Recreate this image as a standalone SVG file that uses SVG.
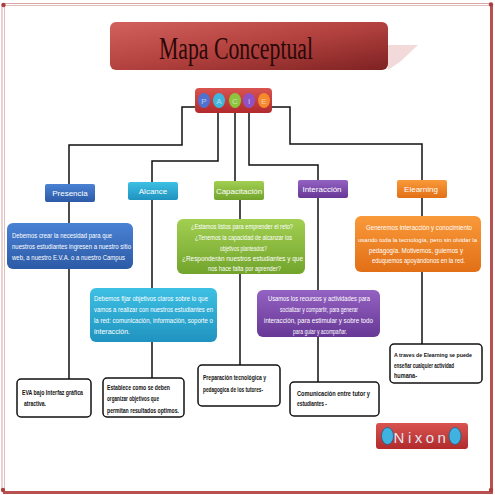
<svg xmlns="http://www.w3.org/2000/svg" width="495" height="495" viewBox="0 0 495 495">
<defs>
<linearGradient id="gTitle" x1="0" y1="0" x2="1" y2="1"><stop offset="0" stop-color="#d2605c"/><stop offset="0.5" stop-color="#b3423f"/><stop offset="1" stop-color="#7e2222"/></linearGradient>
<linearGradient id="gRed" x1="0" y1="0" x2="0" y2="1"><stop offset="0" stop-color="#d85450"/><stop offset="1" stop-color="#b22a2c"/></linearGradient>
<linearGradient id="gBlue" x1="0" y1="0" x2="0" y2="1"><stop offset="0" stop-color="#4a82d4"/><stop offset="1" stop-color="#2c5aa6"/></linearGradient>
<linearGradient id="gCyan" x1="0" y1="0" x2="0" y2="1"><stop offset="0" stop-color="#3ec0e4"/><stop offset="1" stop-color="#1f93bf"/></linearGradient>
<linearGradient id="gGreen" x1="0" y1="0" x2="0" y2="1"><stop offset="0" stop-color="#a2cf52"/><stop offset="1" stop-color="#72a42c"/></linearGradient>
<linearGradient id="gPurple" x1="0" y1="0" x2="0" y2="1"><stop offset="0" stop-color="#9462c2"/><stop offset="1" stop-color="#673896"/></linearGradient>
<linearGradient id="gOrange" x1="0" y1="0" x2="0" y2="1"><stop offset="0" stop-color="#f99a3a"/><stop offset="1" stop-color="#e26f16"/></linearGradient>
</defs>
<style>
.wire{fill:none;stroke:#111;stroke-width:1.5}
.hdr{font-family:"Liberation Sans",Arial,sans-serif;font-size:8px;fill:#fff;text-anchor:middle}
.desc{font-family:"Liberation Sans Narrow","Liberation Sans",Arial,sans-serif;font-size:7px;fill:#fff}
.leaf{fill:#fff;stroke:#111;stroke-width:1.5}
.lt{font-family:"Liberation Sans Narrow","Liberation Sans",Arial,sans-serif;font-size:7px;font-weight:bold;fill:#111}
.sm{font-size:6.2px}
.pl{font-family:"Liberation Sans",Arial,sans-serif;font-size:8px;fill:#f3e6ee;text-anchor:middle;opacity:0.7}
</style>
<rect width="495" height="495" fill="#fff"/>
<g id="frame">
<path d="M2,491 V3.5 H491" fill="none" stroke="#d7a6a6" stroke-width="1"/>
<path d="M4.5,491 V5.5 H489" fill="none" stroke="#e3bcbc" stroke-width="1"/>
<path d="M491.5,4 V492.5 H3" fill="none" stroke="#b85150" stroke-width="3"/>
<circle cx="3.5" cy="5" r="2.2" fill="#a8403f"/>
<circle cx="491" cy="4.5" r="2.2" fill="#a8403f"/>
<circle cx="3" cy="490" r="2.2" fill="#a8403f"/>
<circle cx="491" cy="490" r="2.2" fill="#a8403f"/>
</g>
<g id="title">
<polygon points="388,45 418,45 400,62 388,70" fill="#f3dada"/>
<rect x="110" y="22" width="278" height="48" rx="6" fill="url(#gTitle)"/>
<text x="236" y="59" font-family="'Liberation Serif','Times New Roman',serif" font-size="31" fill="#2a0808" text-anchor="middle" textLength="154" lengthAdjust="spacingAndGlyphs">Mapa Conceptual</text>
</g>
<g id="connectors">
<path class="wire" d="M199,107 H182 V145 H69 V184"/>
<path class="wire" d="M218,108 V161 H152 V182"/>
<path class="wire" d="M235,108 V182"/>
<path class="wire" d="M249,108 V165 H318 V180"/>
<path class="wire" d="M268,107 H290 V144 H422 V181"/>
<path class="wire" d="M69,202 V223 M69,269 V379"/>
<path class="wire" d="M152,200 V288 M152,342 V378"/>
<path class="wire" d="M240,200 V219 M240,274 V365"/>
<path class="wire" d="M318,198 V290 M318,337 V382"/>
<path class="wire" d="M422,198 V216 M422,272 V344"/>
</g>
<g id="pacie">
<rect x="195" y="88" width="77" height="25" rx="4" fill="url(#gRed)"/>
<ellipse cx="204" cy="100.5" rx="6" ry="7.5" fill="#4f72d2"/>
<ellipse cx="219" cy="100.5" rx="6" ry="7.5" fill="#3fb6dc"/>
<ellipse cx="235" cy="100.5" rx="6" ry="7.5" fill="#8cc63e"/>
<ellipse cx="249" cy="100.5" rx="6" ry="7.5" fill="#8f52c4"/>
<ellipse cx="264" cy="100.5" rx="6" ry="7.5" fill="#f58a2c"/>
<text class="pl" x="204" y="103.5">P</text>
<text class="pl" x="219" y="103.5">A</text>
<text class="pl" x="235" y="103.5">C</text>
<text class="pl" x="249" y="103.5">I</text>
<text class="pl" x="264" y="103.5">E</text>
</g>
<g id="presencia">
<rect x="45" y="184" width="50" height="18" rx="2" fill="url(#gBlue)"/>
<text class="hdr" x="70" y="196">Presencia</text>
</g>
<g id="alcance">
<rect x="128" y="182" width="50" height="18" rx="2" fill="url(#gCyan)"/>
<text class="hdr" x="153" y="194">Alcance</text>
</g>
<g id="capacitacion">
<rect x="214" y="181" width="50" height="19" rx="2" fill="url(#gGreen)"/>
<text class="hdr" x="239" y="193.5">Capacitación</text>
</g>
<g id="interaccion">
<rect x="298" y="180" width="50" height="18" rx="2" fill="url(#gPurple)"/>
<text class="hdr" x="322" y="192">Interacción</text>
</g>
<g id="elearning">
<rect x="397" y="180" width="50" height="18" rx="2" fill="url(#gOrange)"/>
<text class="hdr" x="421" y="192">Elearning</text>
</g>
<g id="presencia-desc">
<rect x="7" y="223" width="126" height="46" rx="6" fill="url(#gBlue)"/>
<text class="desc" x="12" y="238" textLength="100" lengthAdjust="spacingAndGlyphs">Debemos crear la necesidad para que</text>
<text class="desc" x="12" y="249" textLength="119" lengthAdjust="spacingAndGlyphs">nuestros estudiantes ingresen a nuestro sitio</text>
<text class="desc" x="12" y="260" textLength="113" lengthAdjust="spacingAndGlyphs">web, a nuestro E.V.A.   o a nuestro Campus</text>
</g>
<g id="capacitacion-desc">
<rect x="177" y="219" width="128" height="55" rx="6" fill="url(#gGreen)"/>
<text class="desc" x="191" y="229" textLength="102" lengthAdjust="spacingAndGlyphs">¿Estamos listos para emprender el reto?</text>
<text class="desc" x="195" y="240" textLength="97" lengthAdjust="spacingAndGlyphs">¿Tenemos la capacidad de alcanzar los</text>
<text class="desc" x="220" y="250.5" textLength="47" lengthAdjust="spacingAndGlyphs">objetivos planteados?</text>
<text class="desc" x="182" y="261" textLength="121" lengthAdjust="spacingAndGlyphs">¿Responderán nuestros estudiantes y que</text>
<text class="desc" x="208" y="271" textLength="73" lengthAdjust="spacingAndGlyphs">nos hace falta por aprender?</text>
</g>
<g id="elearning-desc">
<rect x="355" y="216" width="126" height="56" rx="6" fill="url(#gOrange)"/>
<text class="desc" x="366" y="230" textLength="106" lengthAdjust="spacingAndGlyphs">Generemos  interacción y conocimiento</text>
<text class="desc sm" x="358" y="242" textLength="119" lengthAdjust="spacingAndGlyphs">usando toda la tecnología, pero sin olvidar la</text>
<text class="desc" x="369" y="252.5" textLength="94" lengthAdjust="spacingAndGlyphs">pedagogía. Motivemos, guiemos y</text>
<text class="desc" x="372" y="262.5" textLength="93" lengthAdjust="spacingAndGlyphs">eduquemos apoyándonos en la red.</text>
</g>
<g id="alcance-desc">
<rect x="90" y="288" width="127" height="54" rx="6" fill="url(#gCyan)"/>
<text class="desc" x="94" y="301" textLength="114" lengthAdjust="spacingAndGlyphs">Debemos fijar objetivos claros sobre lo que</text>
<text class="desc" x="94" y="312" textLength="119" lengthAdjust="spacingAndGlyphs">vamos a realizar con nuestros estudiantes en</text>
<text class="desc" x="94" y="323" textLength="119" lengthAdjust="spacingAndGlyphs">la red: comunicación, información, soporte o</text>
<text class="desc" x="94" y="334" textLength="36" lengthAdjust="spacingAndGlyphs">interacción.</text>
</g>
<g id="interaccion-desc">
<rect x="257" y="290" width="123" height="47" rx="6" fill="url(#gPurple)"/>
<text class="desc" x="268" y="300.5" textLength="102" lengthAdjust="spacingAndGlyphs">Usamos los recursos y actividades para</text>
<text class="desc" x="280" y="311.5" textLength="78" lengthAdjust="spacingAndGlyphs">socializar  y compartir, para generar</text>
<text class="desc" x="264" y="322.5" textLength="109" lengthAdjust="spacingAndGlyphs">interacción, para estimular y sobre todo</text>
<text class="desc" x="293" y="333.5" textLength="54" lengthAdjust="spacingAndGlyphs">para guiar y acompañar.</text>
</g>
<g id="eva">
<rect class="leaf" x="17" y="379" width="74" height="38" rx="4"/>
<text class="lt" x="22" y="395" textLength="61" lengthAdjust="spacingAndGlyphs">EVA bajo Interfaz gráfica</text>
<text class="lt" x="24" y="406" textLength="22" lengthAdjust="spacingAndGlyphs">atractiva.</text>
</g>
<g id="establece">
<rect class="leaf" x="103" y="378" width="81" height="39" rx="4"/>
<text class="lt" x="107" y="390" textLength="63" lengthAdjust="spacingAndGlyphs">Establece como se deben</text>
<text class="lt" x="107" y="401" textLength="52" lengthAdjust="spacingAndGlyphs">organizar objetivos que</text>
<text class="lt" x="107" y="412.5" textLength="72" lengthAdjust="spacingAndGlyphs">permitan resultados optimos.</text>
</g>
<g id="preparacion">
<rect class="leaf" x="198" y="365" width="82" height="41" rx="4"/>
<text class="lt" x="203" y="380" textLength="63" lengthAdjust="spacingAndGlyphs">Preparación tecnológica y</text>
<text class="lt" x="203" y="392" textLength="60" lengthAdjust="spacingAndGlyphs">pedagogica de los tutores-</text>
</g>
<g id="comunicacion">
<rect class="leaf" x="290" y="382" width="89" height="34" rx="4"/>
<text class="lt" x="297" y="396" textLength="73" lengthAdjust="spacingAndGlyphs">Comunicación entre tutor y</text>
<text class="lt" x="297" y="406" textLength="30" lengthAdjust="spacingAndGlyphs">estudiantes -</text>
</g>
<g id="atraves">
<rect class="leaf" x="390" y="344" width="92" height="39" rx="4"/>
<text class="lt sm" x="394" y="357" textLength="78" lengthAdjust="spacingAndGlyphs">A traves de Elearning se puede</text>
<text class="lt" x="394" y="368" textLength="60" lengthAdjust="spacingAndGlyphs">enseñar cualquier actividad</text>
<text class="lt" x="394" y="377.5" textLength="23" lengthAdjust="spacingAndGlyphs">humana-</text>
</g>
<g id="nixon">
<rect x="376" y="423" width="92" height="26" rx="3" fill="url(#gRed)"/>
<ellipse cx="387.5" cy="436" rx="6" ry="8.5" fill="#40b2e2" stroke="#1c5f86" stroke-width="0.8"/>
<ellipse cx="455" cy="436" rx="6" ry="8.5" fill="#40b2e2" stroke="#1c5f86" stroke-width="0.8"/>
<text x="421.5" y="443" font-family="'Liberation Sans',Arial,sans-serif" font-size="15" fill="#dfe4f2" text-anchor="middle" letter-spacing="3.5">Nixon</text>
</g>
</svg>
